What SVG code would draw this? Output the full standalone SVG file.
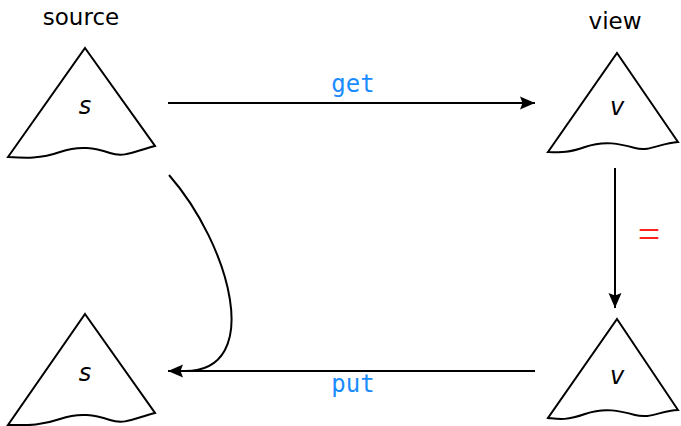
<svg xmlns="http://www.w3.org/2000/svg" width="681" height="426" viewBox="0 0 681 426">
<defs>
<marker id="ah" markerWidth="16" markerHeight="14" refX="15" refY="7" orient="auto" markerUnits="userSpaceOnUse">
<path d="M0,0.5 L15,7 L0,13.5 L2.5,7 Z" fill="#000"/>
</marker>
<style>
.tri{fill:#fff;stroke:#000;stroke-width:2;stroke-linejoin:miter}
.var{font-family:"DejaVu Sans",sans-serif;font-style:italic;font-size:24px;text-anchor:middle}
.lbl{font-family:"DejaVu Sans",sans-serif;font-size:23px;text-anchor:middle}
.code{font-family:"DejaVu Sans Mono","Liberation Mono",monospace;font-size:24px;fill:#1a8cff;text-anchor:middle}
.edge{fill:none;stroke:#000;stroke-width:2}
</style>
</defs>
<g id="source">
<text class="lbl" x="81" y="25">source</text>
<path class="tri" d="M85,48 L155,146 C135,151 125,158 110,153 C95,148 80,145 60,152 C40,159 25,158 8,157 Z"/>
<text class="var" x="85" y="114">s</text>
</g>
<g id="view">
<text class="lbl" x="615" y="29">view</text>
<path class="tri" d="M617,53 L678,142 C660,143 650,152 635,148 C620,144 605,140 585,147 C565,154 558,152 548,152 Z"/>
<text class="var" x="617" y="115">v</text>
</g>
<g id="source2">
<path class="tri" d="M85,314 L155,413 C135,418 125,425 110,420 C95,415 80,412 60,419 C40,426 25,425 8,425 Z"/>
<text class="var" x="85" y="381">s</text>
</g>
<g id="view2">
<path class="tri" d="M617,319 L678,410 C660,411 650,419 635,415 C620,411 605,407 585,414 C565,421 558,419 548,418 Z"/>
<text class="var" x="617" y="384">v</text>
</g>
<g id="connectors">
<line class="edge" x1="168" y1="103" x2="535" y2="103" marker-end="url(#ah)"/>
<text class="code" x="353" y="92">get</text>
<line class="edge" x1="615" y1="168" x2="615" y2="308" marker-end="url(#ah)"/>
<text x="649" y="248" style="font-family:'Liberation Serif',serif;font-size:40px;fill:#ff2020;text-anchor:middle">=</text>
<line class="edge" x1="535" y1="371" x2="168" y2="371" marker-end="url(#ah)"/>
<text class="code" x="353" y="392">put</text>
<path class="edge" d="M169,175 C230,245 265,371 185,371"/>
</g>
</svg>
